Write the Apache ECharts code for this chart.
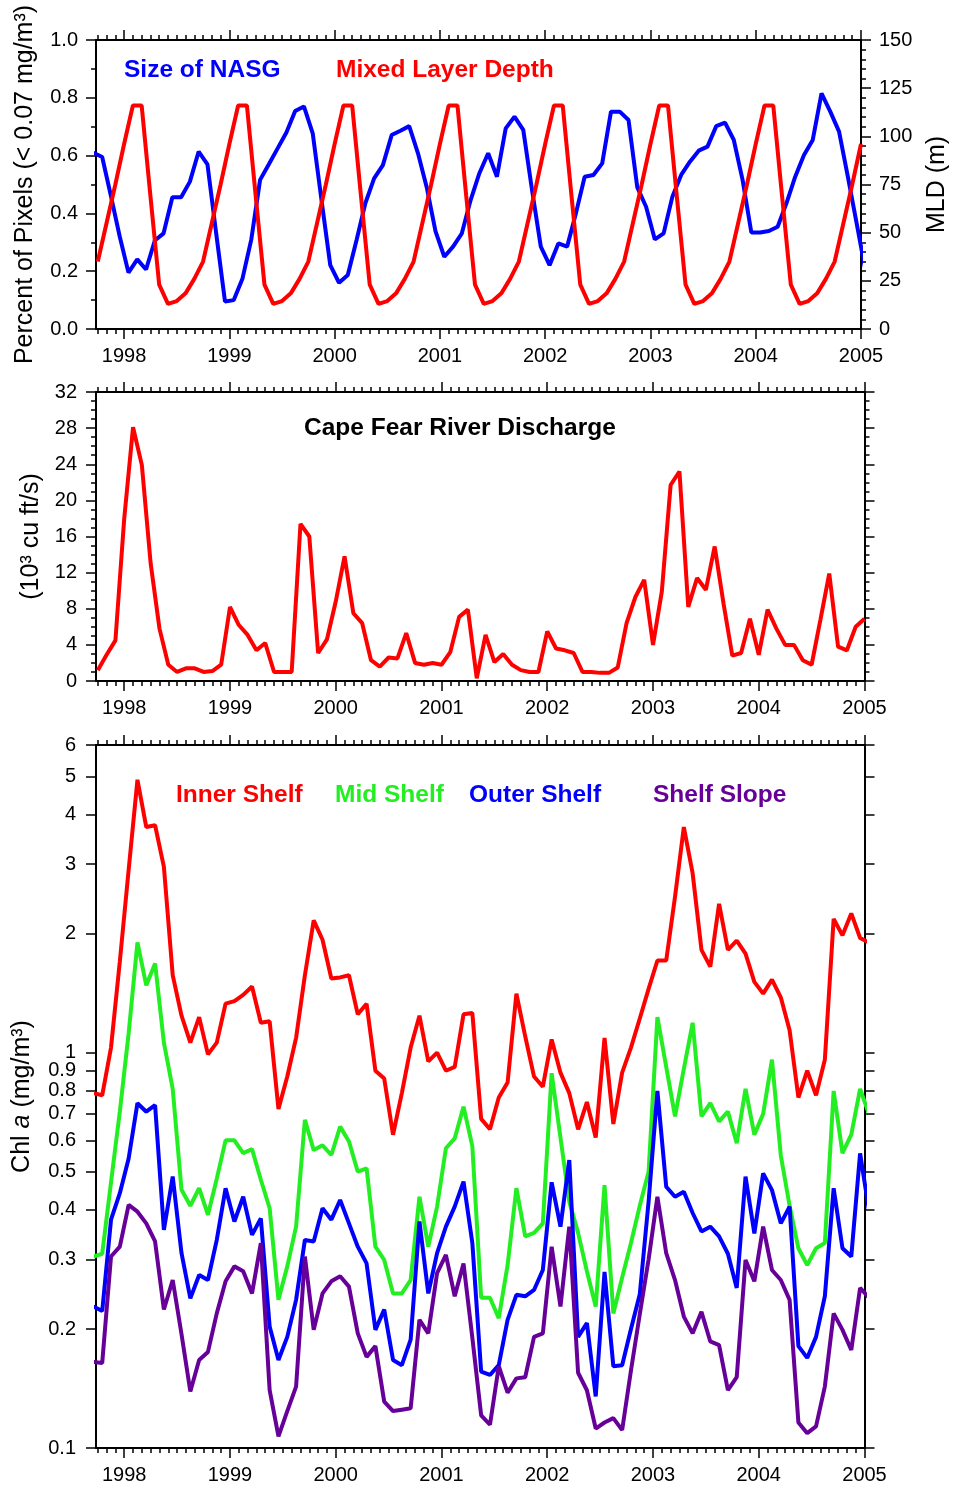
<!DOCTYPE html>
<html><head><meta charset="utf-8">
<script src="https://cdn.jsdelivr.net/npm/echarts@6/dist/echarts.min.js"></script>
<style>html,body{margin:0;padding:0;background:#fff}#c{width:958px;height:1490px}</style>
</head><body><div id="c"></div>
<script>
// ---------- DATA ----------
// NASG size (fraction of pixels < 0.07 mg/m3), monthly Sep 1997 - Jan 2005 (mid-month)
const nasg = [0.61,0.595,0.46,0.32,
 0.195,0.241,0.206,0.306,0.331,0.456,0.456,0.51,0.614,0.57,0.33,0.095,
 0.10,0.175,0.31,0.516,0.57,0.625,0.68,0.754,0.77,0.677,0.446,0.221,
 0.16,0.187,0.308,0.435,0.521,0.567,0.671,0.686,0.702,0.608,0.49,0.338,
 0.25,0.285,0.331,0.446,0.539,0.608,0.527,0.694,0.735,0.689,0.481,0.285,
 0.221,0.296,0.285,0.40,0.527,0.533,0.573,0.752,0.752,0.723,0.49,0.423,
 0.31,0.331,0.458,0.533,0.579,0.617,0.631,0.702,0.714,0.654,0.516,0.334,
 0.334,0.339,0.354,0.435,0.527,0.602,0.654,0.815,0.752,0.683,0.527,0.366,
 0.204];
// Mixed layer depth (m), Oct 1997 - Jan 2005 (month start)
const mld = [35,55,75,
 96,116,116,69,23,13,14.5,18.5,26,35,55,75,
 96,116,116,69,23,13,14.5,18.5,26,35,55,75,
 96,116,116,69,23,13,14.5,18.5,26,35,55,75,
 96,116,116,69,23,13,14.5,18.5,26,35,55,75,
 96,116,116,69,23,13,14.5,18.5,26,35,55,75,
 96,116,116,69,23,13,14.5,18.5,26,35,55,75,
 96,116,116,69,23,13,14.5,18.5,26,35,55,75,
 96];
// Cape Fear River discharge (10^3 cu ft/s), Oct 1997 - Jan 2005 (month start)
const discharge = [1.2,2.9,4.5,
 18,28.1,23.9,13,5.8,1.8,1.0,1.4,1.4,1.0,1.1,1.8,
 8.2,6.2,5.1,3.4,4.2,1.0,1.0,1.0,17.4,16.0,3.1,4.6,
 8.8,13.8,7.5,6.4,2.3,1.6,2.6,2.5,5.3,2.0,1.8,2.0,
 1.8,3.2,7.1,7.9,0.3,5.1,2.1,3.0,1.8,1.2,1.0,1.0,
 5.5,3.6,3.4,3.1,1.0,1.0,0.9,0.9,1.5,6.4,9.3,11.2,
 4.0,9.9,21.7,23.2,8.2,11.4,10.1,14.9,8.6,2.8,3.1,6.9,
 2.9,7.9,5.8,4.0,4.0,2.3,1.8,6.8,11.9,3.8,3.4,6.0,
 6.9];
// Chl a (mg/m3), monthly Sep 1997 - Jan 2005 (mid-month)
const innerShelf = [0.79,0.78,1.03,1.7,
 2.9,4.9,3.72,3.76,2.95,1.57,1.24,1.06,1.23,0.99,1.06,1.33,
 1.35,1.40,1.47,1.19,1.20,0.72,0.87,1.09,1.57,2.16,1.93,1.54,
 1.55,1.57,1.25,1.33,0.90,0.86,0.62,0.79,1.03,1.24,0.95,1.0,
 0.9,0.92,1.25,1.26,0.68,0.64,0.77,0.84,1.41,1.10,0.87,0.82,
 1.08,0.89,0.79,0.64,0.75,0.61,1.09,0.66,0.89,1.03,1.22,1.45,
 1.71,1.71,2.48,3.72,2.84,1.82,1.65,2.38,1.82,1.92,1.78,1.51,
 1.41,1.53,1.38,1.14,0.77,0.90,0.78,0.96,2.18,1.98,2.25,1.95,
 1.9];
const midShelf = [0.305,0.31,0.47,0.71,
 1.12,1.9,1.48,1.68,1.06,0.81,0.45,0.41,0.454,0.389,0.48,0.60,
 0.60,0.557,0.57,0.477,0.404,0.237,0.288,0.363,0.676,0.567,0.583,0.551,
 0.65,0.596,0.50,0.51,0.323,0.299,0.246,0.246,0.266,0.432,0.323,0.408,
 0.573,0.607,0.73,0.58,0.24,0.24,0.213,0.29,0.454,0.343,0.35,0.37,
 0.887,0.61,0.42,0.35,0.28,0.228,0.462,0.219,0.27,0.33,0.41,0.50,
 1.23,0.92,0.69,0.91,1.19,0.69,0.745,0.67,0.71,0.59,0.81,0.62,
 0.70,0.96,0.55,0.41,0.32,0.29,0.32,0.33,0.80,0.557,0.62,0.81,
 0.70];
const outerShelf = [0.228,0.222,0.378,0.441,
 0.54,0.745,0.709,0.737,0.356,0.486,0.311,0.239,0.274,0.266,0.336,0.454,
 0.374,0.432,0.346,0.381,0.203,0.167,0.191,0.237,0.336,0.333,0.404,0.378,
 0.424,0.370,0.323,0.293,0.199,0.224,0.167,0.162,0.188,0.374,0.246,0.311,
 0.363,0.408,0.472,0.33,0.156,0.153,0.162,0.211,0.244,0.242,0.251,0.282,
 0.47,0.363,0.535,0.191,0.207,0.135,0.279,0.161,0.162,0.20,0.245,0.42,
 0.80,0.458,0.432,0.445,0.393,0.353,0.363,0.343,0.31,0.254,0.486,0.349,
 0.495,0.449,0.370,0.408,0.181,0.169,0.191,0.242,0.454,0.320,0.305,0.556,
 0.40];
const shelfSlope = [0.165,0.164,0.305,0.323,
 0.412,0.396,0.37,0.333,0.224,0.266,0.194,0.139,0.167,0.175,0.219,0.264,
 0.288,0.280,0.246,0.33,0.140,0.107,0.124,0.143,0.305,0.199,0.246,0.264,
 0.272,0.256,0.195,0.170,0.181,0.131,0.124,0.125,0.126,0.211,0.195,0.277,
 0.308,0.242,0.293,0.19,0.121,0.1145,0.161,0.138,0.150,0.151,0.191,0.195,
 0.323,0.228,0.363,0.155,0.14,0.112,0.116,0.119,0.111,0.157,0.218,0.30,
 0.432,0.311,0.266,0.215,0.195,0.221,0.186,0.182,0.14,0.151,0.299,0.264,
 0.363,0.282,0.266,0.237,0.116,0.109,0.1134,0.143,0.219,0.199,0.177,0.254,
 0.24];
// tick labels
const yearTicks = [1998,1999,2000,2001,2002,2003,2004,2005];
const chlTickLabels = [0.1,0.2,0.3,0.4,0.5,0.6,0.7,0.8,0.9,1,2,3,4,5,6];

// ---------- month categories ----------
function monthSeq(start, n){const out=[];let [y,m]=start.split('-').map(Number);for(let i=0;i<n;i++){out.push(y+'-'+String(m).padStart(2,'0'));m++;if(m>12){m=1;y++;}}return out;}
function decYear(s, mid){const [y,m]=s.split('-').map(Number);return y+(m-1+(mid?0.5:0))/12;}
const satMonths = monthSeq('1997-09', 89);    // satellite composites, plotted mid-month
const gaugeMonths = monthSeq('1997-10', 88);  // gauge / climatology, plotted at month start
const monthTicks = monthSeq('1997-10', 88).map(s=>decYear(s,false));

const X_MIN = 1997.733, X_MAX = 2005;
const FONT = '"Liberation Sans", Arial, Helvetica, sans-serif';
const BLUE='#0000ff', RED='#ff0000', GREEN='#22ee22', PURPLE='#660099';

function xAxes(gi){
  const c = {gridIndex:gi, type:'value', min:X_MIN, max:X_MAX, splitLine:{show:false}};
  const line = {show:true, onZero:false, lineStyle:{color:'#000', width:2}};
  const noLine = {show:false, onZero:false};
  const tickStyle = {color:'#000', width:1.5};
  return [
    Object.assign({}, c, {position:'bottom', axisLine:line,
      axisTick:{show:true, customValues:yearTicks, length:10, lineStyle:tickStyle},
      axisLabel:{show:true, customValues:yearTicks, formatter:v=>String(Math.round(v)), fontSize:20, color:'#000', fontFamily:FONT, margin:17}}),
    Object.assign({}, c, {position:'bottom', axisLine:noLine,
      axisTick:{show:true, customValues:monthTicks, length:5, lineStyle:tickStyle}, axisLabel:{show:false}}),
    Object.assign({}, c, {position:'top', axisLine:line,
      axisTick:{show:true, customValues:yearTicks, length:10, lineStyle:tickStyle}, axisLabel:{show:false}}),
    Object.assign({}, c, {position:'top', axisLine:noLine,
      axisTick:{show:true, customValues:monthTicks, length:5, lineStyle:tickStyle}, axisLabel:{show:false}})
  ];
}
const axLine = {show:true, onZero:false, lineStyle:{color:'#000', width:2}};
const tickSt = {color:'#000', width:1.5};
const lab = (o)=>Object.assign({fontSize:20, color:'#000', fontFamily:FONT, margin:18}, o);
const nameSt = {fontSize:25, color:'#000', fontFamily:FONT};

const chlLogTicks = chlTickLabels.map(v=>Math.log10(v));
const fmtChl = v => String(+Math.pow(10, v).toPrecision(2));

const yAxis = [
  // grid 0
  {gridIndex:0, type:'value', position:'left', min:0, max:1, interval:0.2, axisLine:axLine,
   axisTick:{show:true, length:10, lineStyle:tickSt}, minorTick:{show:true, splitNumber:2, length:5, lineStyle:tickSt},
   axisLabel:lab({formatter:v=>v.toFixed(1)}), splitLine:{show:false},
   name:'Percent of Pixels (< 0.07 mg/m³)', nameLocation:'middle', nameGap:58, nameRotate:90, nameTextStyle:nameSt},
  {gridIndex:0, type:'value', position:'right', min:0, max:150, interval:25, axisLine:axLine,
   axisTick:{show:true, length:10, lineStyle:tickSt}, minorTick:{show:true, splitNumber:5, length:5, lineStyle:tickSt},
   axisLabel:lab({}), splitLine:{show:false},
   name:'MLD (m)', nameLocation:'middle', nameGap:64, nameRotate:90, nameTextStyle:nameSt},
  // grid 1
  {gridIndex:1, type:'value', position:'left', min:0, max:32, interval:4, axisLine:axLine,
   axisTick:{show:true, length:10, lineStyle:tickSt}, minorTick:{show:true, splitNumber:4, length:5, lineStyle:tickSt},
   axisLabel:lab({margin:19}), splitLine:{show:false},
   name:'(10³ cu ft/s)', nameLocation:'middle', nameGap:51, nameRotate:90, nameTextStyle:nameSt},
  {gridIndex:1, type:'value', position:'right', min:0, max:32, interval:4, axisLine:axLine,
   axisTick:{show:true, length:10, lineStyle:tickSt}, minorTick:{show:true, splitNumber:4, length:5, lineStyle:tickSt},
   axisLabel:{show:false}, splitLine:{show:false}},
  // grid 2 : log data axis (hidden) + label/tick axes
  {gridIndex:2, type:'log', logBase:10, position:'left', min:0.1, max:6, show:false, axisLine:{show:false, onZero:false}, splitLine:{show:false}},
  {gridIndex:2, type:'value', position:'left', min:-1, max:Math.log10(6), axisLine:axLine,
   axisTick:{show:true, customValues:chlLogTicks, length:10, lineStyle:tickSt},
   axisLabel:lab({customValues:chlLogTicks, formatter:fmtChl, margin:20}), splitLine:{show:false},
   name:'{n|Chl }{i|a}{n| (mg/m³)}', nameLocation:'middle', nameGap:61, nameRotate:90,
   nameTextStyle:{fontSize:25, color:'#000', fontFamily:FONT, rich:{n:{fontSize:25, fontFamily:FONT, color:'#000'}, i:{fontSize:25, fontFamily:FONT, fontStyle:'italic', color:'#000'}}}},
  {gridIndex:2, type:'value', position:'right', min:-1, max:Math.log10(6), axisLine:axLine,
   axisTick:{show:true, customValues:chlLogTicks, length:10, lineStyle:tickSt},
   axisLabel:{show:false}, splitLine:{show:false}}
];

const xAxis = [].concat(xAxes(0), xAxes(1), xAxes(2));

function ser(name, xi, yi, months, mid, vals, color){
  return {name, type:'line', xAxisIndex:xi, yAxisIndex:yi, symbol:'none', showSymbol:false, clip:true,
    lineStyle:{color, width:4}, itemStyle:{color}, emphasis:{disabled:true},
    data: months.map((m,i)=>[decYear(m, mid), vals[i]])};
}

const txt = (x, y, text, color) => ({type:'text', x, y, style:{text, fill:color, font:'bold 24.5px '+FONT, align:'left', verticalAlign:'middle', textVerticalAlign:'middle'}});

const option = {
  animation:false,
  backgroundColor:'#fff',
  textStyle:{fontFamily:FONT},
  grid:[
    {left:96, right:93.5, top:40, height:289},
    {left:96, right:93.5, top:392, height:289},
    {left:96, right:93.5, top:745, height:703}
  ],
  xAxis, yAxis,
  series:[
    ser('Size of NASG', 0, 0, satMonths, true, nasg, BLUE),
    ser('Mixed Layer Depth', 0, 1, gaugeMonths, false, mld, RED),
    ser('Cape Fear River Discharge', 4, 2, gaugeMonths, false, discharge, RED),
    ser('Inner Shelf', 8, 4, satMonths, true, innerShelf, RED),
    ser('Mid Shelf', 8, 4, satMonths, true, midShelf, GREEN),
    ser('Outer Shelf', 8, 4, satMonths, true, outerShelf, BLUE),
    ser('Shelf Slope', 8, 4, satMonths, true, shelfSlope, PURPLE)
  ],
  graphic:[
    txt(124, 70, 'Size of NASG', BLUE),
    txt(336, 70, 'Mixed Layer Depth', RED),
    txt(304, 428, 'Cape Fear River Discharge', '#000'),
    txt(176, 795, 'Inner Shelf', RED),
    txt(335, 795, 'Mid Shelf', GREEN),
    txt(469, 795, 'Outer Shelf', BLUE),
    txt(653, 795, 'Shelf Slope', PURPLE)
  ]
};
const chart = echarts.init(document.getElementById('c'), null, {renderer:'canvas'});
chart.setOption(option);
</script>
</body></html>
